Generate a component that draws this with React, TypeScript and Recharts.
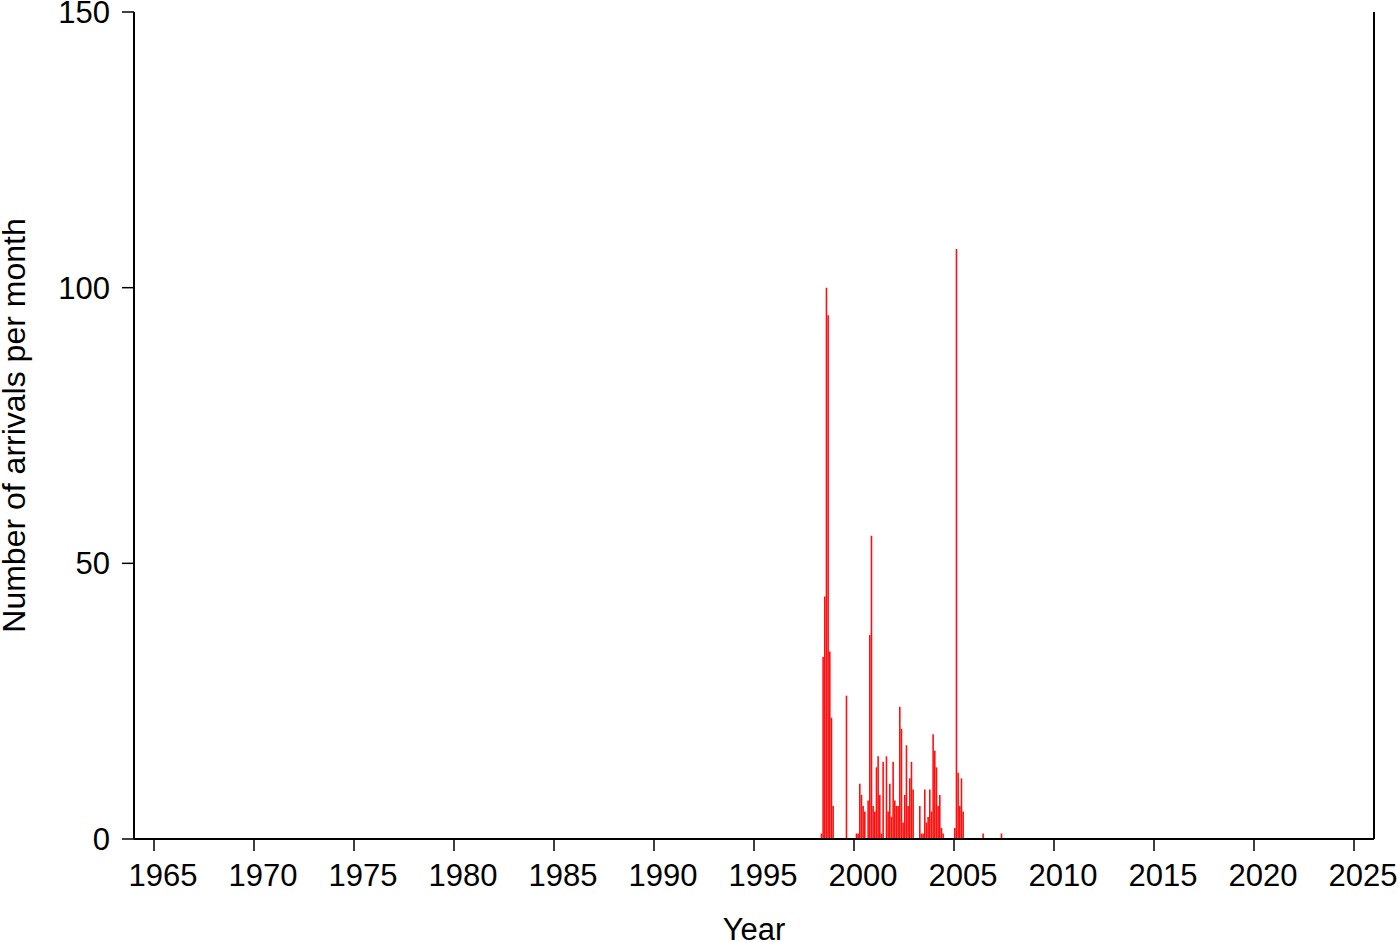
import React from 'react';
import { BarChart, Bar, XAxis, YAxis, Label } from 'recharts';

// arrivals per month (months without arrivals are left out)
const months = [
  '1998-05', '1998-06', '1998-07', '1998-08', '1998-09', '1998-10', '1998-11', '1998-12',
  '1999-08',
  '2000-02', '2000-03', '2000-04', '2000-05', '2000-06', '2000-07', '2000-09', '2000-10', '2000-11', '2000-12',
  '2001-01', '2001-02', '2001-03', '2001-04', '2001-05', '2001-06', '2001-08', '2001-09', '2001-10', '2001-11', '2001-12',
  '2002-01', '2002-02', '2002-03', '2002-04', '2002-05', '2002-06', '2002-07', '2002-08', '2002-09', '2002-10', '2002-11', '2002-12',
  '2003-04', '2003-05', '2003-06', '2003-07', '2003-08', '2003-09', '2003-10', '2003-11', '2003-12',
  '2004-01', '2004-02', '2004-03', '2004-04', '2004-05', '2004-06',
  '2005-01', '2005-02', '2005-03', '2005-04', '2005-05', '2005-06',
  '2006-06',
  '2007-05',
];
const counts = [
  1, 33, 44, 100, 95, 34, 22, 6,
  26,
  1, 1, 10, 8, 6, 5, 7, 37, 55, 6,
  5, 13, 15, 8, 1, 14, 15, 5, 10, 4, 14,
  7, 6, 6, 24, 20, 3, 8, 17, 6, 11, 14, 9,
  6, 1, 1, 9, 3, 4, 9, 5, 19,
  16, 13, 6, 8, 2, 1,
  2, 107, 12, 6, 11, 5,
  1,
  1,
];
const yearTicks = [1965, 1970, 1975, 1980, 1985, 1990, 1995, 2000, 2005, 2010, 2015, 2020, 2025];
const countTicks = [0, 50, 100, 150];

const data = months.map((m, i) => {
  const [y, mo] = m.split('-').map(Number);
  return { t: y + (mo - 0.5) / 12, n: counts[i] };
});

const family = '"Liberation Sans", Arial, Helvetica, sans-serif';
const font = { fontFamily: family, fontSize: 31, fill: '#000' };
const titleFont = { fontFamily: family, fontSize: 32, fill: '#000' };
const axisLine = { stroke: '#000', strokeWidth: 2 };
const tickLine = { stroke: '#000', strokeWidth: 1.5 };
const blank = () => '';

const YearLabel = ({ viewBox }: any) => (
  <text x={viewBox.x + viewBox.width / 2} y={viewBox.y + 101} textAnchor="middle" style={font}>
    Year
  </text>
);

const CountLabel = ({ viewBox }: any) => {
  const cy = viewBox.y + viewBox.height / 2;
  return (
    <text x={25} y={cy} transform={`rotate(-90 25 ${cy})`} textAnchor="middle" style={titleFont}>
      Number of arrivals per month
    </text>
  );
};

export default function App() {
  return (
    <div style={{ position: 'absolute', left: 0, top: 0, background: '#fff' }}>
      <BarChart
        width={1400}
        height={942}
        data={data}
        margin={{ top: 12, right: 10, bottom: 10, left: 10 }}
      >
        <XAxis
          xAxisId="bottom"
          dataKey="t"
          type="number"
          domain={[1964, 2026]}
          allowDataOverflow
          ticks={yearTicks}
          interval={0}
          height={93}
          tickSize={12}
          tickMargin={13}
          tick={{ ...font, dx: 9 }}
          axisLine={axisLine}
          tickLine={tickLine}
        >
          <Label content={<YearLabel />} />
        </XAxis>
        <XAxis
          xAxisId="top"
          orientation="top"
          type="number"
          domain={[1964, 2026]}
          allowDataOverflow
          ticks={yearTicks}
          interval={0}
          height={0}
          tickSize={12}
          tickFormatter={blank}
          axisLine={axisLine}
          tickLine={tickLine}
        />
        <YAxis
          yAxisId="left"
          type="number"
          domain={[0, 150]}
          ticks={countTicks}
          interval={0}
          width={124}
          tickSize={12}
          tickMargin={12}
          tick={font}
          axisLine={axisLine}
          tickLine={tickLine}
        >
          <Label content={<CountLabel />} />
        </YAxis>
        <YAxis
          yAxisId="right"
          orientation="right"
          type="number"
          domain={[0, 150]}
          ticks={countTicks}
          interval={0}
          width={16}
          tickSize={12}
          tickFormatter={blank}
          axisLine={axisLine}
          tickLine={tickLine}
        />
        <Bar
          xAxisId="bottom"
          yAxisId="left"
          dataKey="n"
          fill="#ff1010"
          barSize={1.6}
          isAnimationActive={false}
        />
      </BarChart>
    </div>
  );
}
